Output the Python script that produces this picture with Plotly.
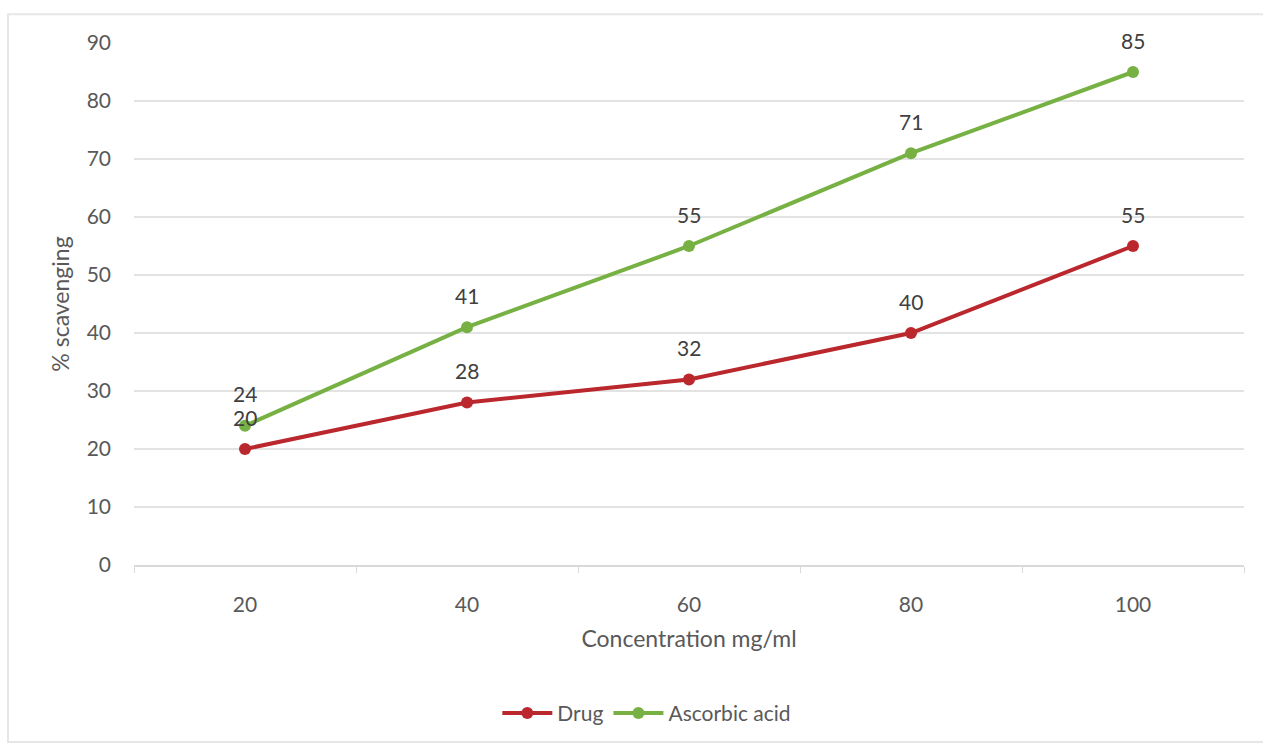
import plotly.graph_objects as go

# Concentration levels (mg/ml) and % scavenging for each sample
concentrations = ["20", "40", "60", "80", "100"]
drug = [20, 28, 32, 40, 55]
ascorbic_acid = [24, 41, 55, 71, 85]
y_ticks = [0, 10, 20, 30, 40, 50, 60, 70, 80, 90]

RED = "#BA272D"
GREEN = "#77B144"
TEXT = "#595959"
FONT = "Lato, 'Open Sans', sans-serif"

fig = go.Figure()
fig.add_trace(go.Scatter(
    x=concentrations, y=drug, name="Drug", mode="lines+markers",
    line=dict(color=RED, width=4), marker=dict(color=RED, size=12),
))
fig.add_trace(go.Scatter(
    x=concentrations, y=ascorbic_acid, name="Ascorbic acid", mode="lines+markers",
    line=dict(color=GREEN, width=4), marker=dict(color=GREEN, size=12),
))

# Value labels above each point (category axis -> position by index)
for series in (drug, ascorbic_acid):
    for i, yv in enumerate(series):
        fig.add_annotation(
            x=i, y=yv, xref="x", yref="y", text=str(yv), showarrow=False, yshift=32,
            font=dict(size=21, color="#404040", family=FONT),
        )

# Light frame around the chart
fig.add_shape(type="rect", xref="paper", yref="paper",
              x0=-0.1135, x1=1.02, y0=-0.339, y1=1.055,
              line=dict(color="#e6e6e6", width=2), layer="below")

fig.update_layout(
    width=1263, height=746,
    margin=dict(l=134, r=19, t=43, b=181),
    paper_bgcolor="white", plot_bgcolor="white",
    font=dict(family=FONT, color=TEXT, size=21),
    showlegend=True,
    legend=dict(orientation="h", x=0.462, xanchor="center", y=-0.284, yanchor="middle",
                font=dict(size=21, color=TEXT), itemwidth=50),
)
fig.update_xaxes(
    type="category", range=[-0.5, 4.5],
    showgrid=False, showline=True, linecolor="#d9d9d9", linewidth=2,
    ticks="outside", tickson="boundaries", ticklen=6, tickcolor="#d9d9d9",
    ticklabelstandoff=20,
    tickfont=dict(size=21, color=TEXT),
    title=dict(text="Concentration mg/ml", standoff=16, font=dict(size=23, color=TEXT)),
)
fig.update_yaxes(
    range=[0, 90], tickvals=y_ticks,
    showgrid=True, gridcolor="#e3e3e3", gridwidth=2,
    zeroline=False, showline=False, ticks="",
    ticklabelstandoff=22,
    tickfont=dict(size=21, color=TEXT),
    title=dict(text="% scavenging", standoff=10, font=dict(size=23, color=TEXT)),
)

fig.write_html("out.html")
